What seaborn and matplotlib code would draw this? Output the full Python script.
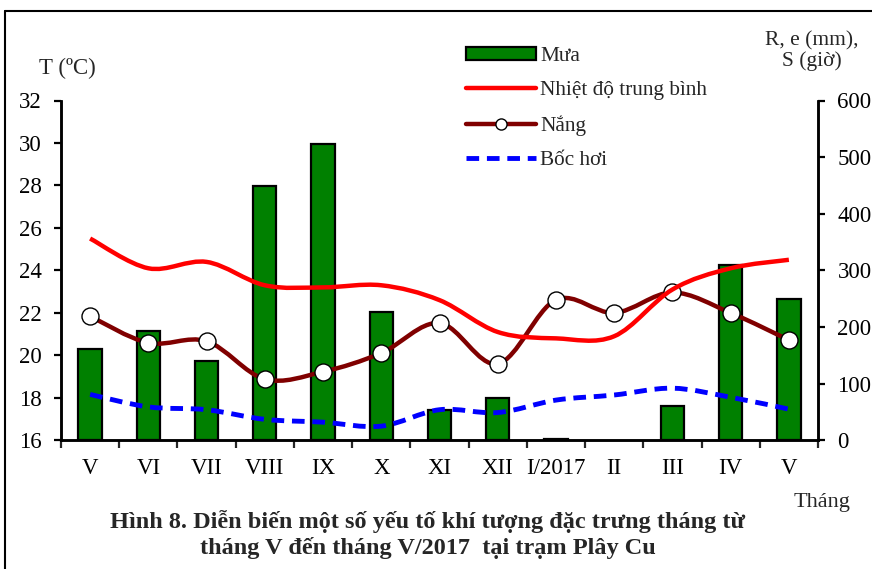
import numpy as np
import pandas as pd
import matplotlib
matplotlib.use('Agg')
import matplotlib.pyplot as plt
import seaborn as sns
from matplotlib.path import Path
from matplotlib.patches import PathPatch, Patch
from matplotlib.lines import Line2D

sns.set_theme(style="white")
plt.rcParams['font.family'] = ['Liberation Serif', 'DejaVu Serif']
plt.rcParams['axes.unicode_minus'] = False

# Dữ liệu
thang = ['V', 'VI', 'VII', 'VIII', 'IX', 'X', 'XI', 'XII', 'I/2017', 'II', 'III', 'IV', 'V']
mua = [161, 193, 140, 449, 524, 226, 53, 75, 2, np.nan, 61, 310, 249]     # mm (II: không mưa)
nhiet_do = [25.5, 24.1, 24.4, 23.3, 23.2, 23.3, 22.6, 21.1, 20.8, 20.9, 23.1, 24.1, 24.5]  # °C
nang = [219, 172, 175, 108, 121, 154, 207, 135, 248, 225, 261, 225, 177]   # giờ
boc_hoi = [81, 59, 54, 37, 32, 25, 54, 49, 71, 80, 92, 76, 55]            # mm

df = pd.DataFrame({'pos': np.arange(len(thang)), 'mua': mua})


def smooth_path(x, y):
    # đường cong trơn kiểu Excel (Catmull-Rom -> Bezier)
    pts = np.column_stack([x, y]).astype(float)
    n = len(pts)
    verts = [pts[0]]
    codes = [Path.MOVETO]
    for i in range(n - 1):
        p0 = pts[i - 1] if i > 0 else pts[i]
        p1 = pts[i]
        p2 = pts[i + 1]
        p3 = pts[i + 2] if i + 2 < n else pts[i + 1]
        c1 = p1 + (p2 - p0) / 6
        c2 = p2 - (p3 - p1) / 6
        verts += [c1, c2, p2]
        codes += [Path.CURVE4] * 3
    return Path(verts, codes)


fig = plt.figure(figsize=(8.72, 5.69), dpi=100)
ax = fig.add_axes([61 / 872, 1 - 440.3 / 569, (818 - 61) / 872, 339.8 / 569])
ax2 = ax.twinx()

# cột mưa (trục phải)
sns.barplot(data=df, x='pos', y='mua', ax=ax, color='#008000', edgecolor='black',
            linewidth=1.6, width=0.4, saturation=1)

pos = np.arange(len(thang))
ax.add_patch(PathPatch(smooth_path(pos, boc_hoi), fill=False, edgecolor='#0000FF',
                       lw=3.5, linestyle=(0, (2.6, 1.6)), zorder=4))
ax.add_patch(PathPatch(smooth_path(pos, nang), fill=False, edgecolor='#800000',
                       lw=3.2, zorder=5, capstyle='round'))
sns.scatterplot(x=pos, y=nang, ax=ax, s=150, color='white', edgecolor='black',
                linewidth=1.0, zorder=6)

# nhiệt độ (trục trái)
ax2.add_patch(PathPatch(smooth_path(pos, nhiet_do), fill=False, edgecolor='#FF0000',
                        lw=3.2, zorder=5))

ax.set_xlim(-0.5, len(thang) - 0.5)
ax.set_ylim(0, 600)
ax2.set_ylim(16, 32)
ax.set_xlabel('')
ax.set_ylabel('')

# trục phải cho mưa/nắng/bốc hơi, trục trái cho nhiệt độ
ax.yaxis.tick_right()
ax2.yaxis.tick_left()
ax.set_yticks(range(0, 601, 100))
ax2.set_yticks(range(16, 33, 2))
ax.set_xticks(pos)
ax.set_xticklabels(thang)
ax.set_xticks(np.arange(-0.5, len(thang), 1), minor=True)
ax.tick_params(axis='x', which='major', length=0, pad=13, labelsize=16.5, colors='black')
ax.tick_params(axis='x', which='minor', length=6, width=1.6, direction='out', bottom=True)
ax.tick_params(axis='y', length=5, width=1.6, direction='out', pad=9, labelsize=16.5,
               right=True, left=False, colors='black')
ax2.tick_params(axis='y', length=5, width=1.6, direction='out', pad=9, labelsize=16.5,
                left=True, right=False, colors='black')

for a in (ax, ax2):
    a.patch.set_visible(False)
    a.spines['top'].set_visible(False)
    for s in ('left', 'right', 'bottom'):
        a.spines[s].set_color('black')
        a.spines[s].set_linewidth(1.8)

# nhãn trục
fig.text(67 / 872, 1 - 68 / 569, 'T (ºC)', ha='center', va='center', fontsize=16.5)
fig.text(812 / 872, 1 - 51 / 569, 'R, e (mm),\nS (giờ)', ha='center', va='center',
         fontsize=15.5, linespacing=1.1)
fig.text(822 / 872, 1 - 502 / 569, 'Tháng', ha='center', va='center', fontsize=16)

# chú thích
handles = [
    Patch(facecolor='#008000', edgecolor='black', linewidth=1.6),
    Line2D([], [], color='#FF0000', lw=3.2),
    Line2D([], [], color='#800000', lw=3.2, marker='o', markersize=8,
           markerfacecolor='white', markeredgecolor='black'),
    Line2D([], [], color='#0000FF', lw=3.5, linestyle=(0, (2.6, 1.6))),
]
labels = ['Mưa', 'Nhiệt độ trung bình', 'Nắng', 'Bốc hơi']
fig.legend(handles, labels, loc='upper left', bbox_to_anchor=(466 / 872, 1 - 47 / 569),
           frameon=False, fontsize=15.3, handlelength=3.3, handletextpad=0.2,
           labelspacing=0.7, handleheight=0.6, borderaxespad=0, borderpad=0)

# tiêu đề hình
fig.text(427 / 872, 1 - 522 / 569,
         'Hình 8. Diễn biến một số yếu tố khí tượng đặc trưng tháng từ',
         ha='center', va='center', fontsize=17.5, fontweight='bold')
fig.text(428 / 872, 1 - 548 / 569,
         'tháng V đến tháng V/2017  tại trạm Plây Cu',
         ha='center', va='center', fontsize=17.5, fontweight='bold')

# khung ngoài (chỉ cạnh trên và trái)
fig.add_artist(Line2D([5 / 872, 1], [1 - 11 / 569, 1 - 11 / 569], color='black', lw=1.5))
fig.add_artist(Line2D([5 / 872, 5 / 872], [0, 1 - 11 / 569], color='black', lw=1.5))

fig.savefig('out.png', dpi=100)
